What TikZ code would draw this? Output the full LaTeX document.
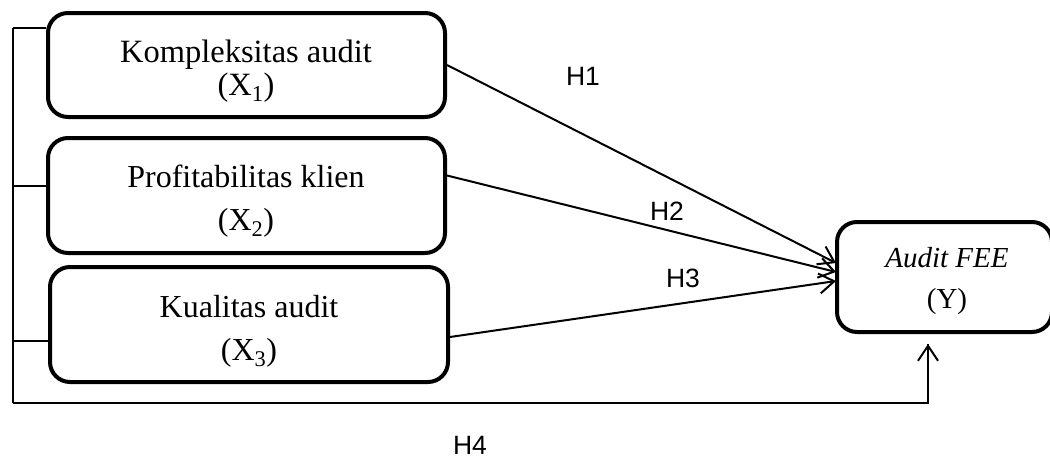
\documentclass[tikz,border=0pt]{standalone}
\usepackage{fontspec}
\setmainfont{Liberation Serif}
\newfontfamily\arialf{Liberation Sans}
\usetikzlibrary{arrows.meta,calc}
\begin{document}
\begin{tikzpicture}[x=1pt,y=-1pt,
  varbox/.style={draw,line width=4pt,rounded corners=20pt,inner sep=0pt},
  vtext/.style={align=center,inner sep=0pt,font=\fontsize{32}{43}\selectfont},
  hyp/.style={font=\arialf\fontsize{26.5}{30}\selectfont,inner sep=0pt},
  conn/.style={line width=2pt,-{Straight Barb[length=15pt,width=20pt,line width=2pt]}},
  brack/.style={line width=1.5pt}]
\useasboundingbox (0,0) rectangle (1050,458);
\begin{scope}
\clip (0,0) rectangle (1050,458);
% boxes
\node[varbox,minimum width=397pt,minimum height=104pt] (x1) at (246.5,65) {};
\node[varbox,minimum width=397pt,minimum height=115pt] (x2) at (246.5,195.5) {};
\node[varbox,minimum width=398pt,minimum height=115pt] (x3) at (249,324.5) {};
\node[varbox,minimum width=215pt,minimum height=110pt] (y) at (944.5,277) {};
\end{scope}
% texts (anchored at the baseline of the last line)
\node[vtext,font=\fontsize{32.5}{33}\selectfont,anchor=base] (t1) at (246,95) {Kompleksitas audit\\(X\textsubscript{1})};
\node[vtext,anchor=base] (t2) at (246,230) {Profitabilitas klien\\(X\textsubscript{2})};
\node[vtext,anchor=base] (t3) at (249,360) {Kualitas audit\\(X\textsubscript{3})};
\node[vtext,font=\fontsize{29}{41}\selectfont,anchor=base] (ty) at (947,308) {\textit{Audit FEE}\\(Y)};
% hypothesis labels
\node[hyp] (h1) at (583,76) {H1};
\node[hyp] (h2) at (667,211) {H2};
\node[hyp] (h3) at (683,278) {H3};
\node[hyp] (h4) at (470,445) {H4};
% arrows
\coordinate (e1) at (836,263);
\coordinate (e2) at (836,272);
\coordinate (e3) at (836,281);
\draw[conn] (x1.east) -- (e1);
\draw[conn] ($(x2.east)+(0,-20)$) -- (e2);
\draw[conn] ($(x3.east)+(0,12.5)$) -- (e3);
% left bracket
\coordinate (b1) at (13,28);
\coordinate (b2) at (13,186);
\coordinate (b3) at (13,341);
\coordinate (b4) at (13,403);
\coordinate (yt) at (928,344);
\draw[brack] (b1) -- (b4);
\draw[brack] (b1) -- (b1 -| x1.west);
\draw[brack] (b2) -- (b2 -| x2.west);
\draw[brack] (b3) -- (b3 -| x3.west);
\draw[brack] (b4) -| (928,403) -- (yt);
\draw[conn] (928,360) -- (yt);
\end{tikzpicture}
\end{document}
